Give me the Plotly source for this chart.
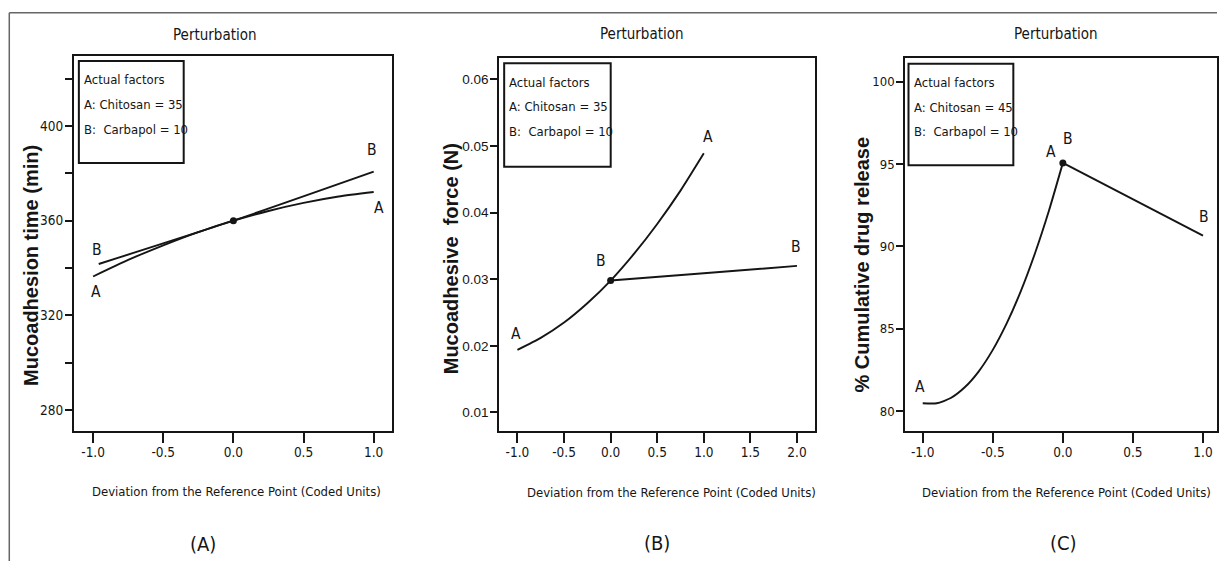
import plotly.graph_objects as go

W, H = 1219, 561

# ---------------- data ----------------
# Panel A: Mucoadhesion time (min)
a_A_x = [-1.0, -0.75, -0.5, -0.25, 0.0, 0.25, 0.5, 0.75, 1.0]
a_A_y = [336.4, 343.4, 349.6, 355.2, 360.0, 364.1, 367.5, 370.2, 372.1]
a_B_x = [-0.96, 0.0, 1.0]
a_B_y = [341.7, 360.0, 380.7]

# Panel B: Mucoadhesive force (N)
b_A_x = [-1.0, -0.75, -0.5, -0.25, 0.0, 0.25, 0.5, 0.75, 1.0]
b_A_y = [0.0194, 0.0212, 0.0235, 0.0264, 0.0298, 0.0338, 0.0383, 0.0433, 0.0489]
b_B_x = [0.0, 1.0, 2.0]
b_B_y = [0.0298, 0.0309, 0.0320]

# Panel C: % Cumulative drug release
c_A_x = [-1.0, -0.9, -0.8, -0.7, -0.6, -0.5, -0.4, -0.3, -0.2, -0.1, 0.0]
c_A_y = [80.49, 80.49, 80.81, 81.46, 82.43, 83.73, 85.35, 87.29, 89.56, 92.15, 95.07]
c_B_x = [0.0, 1.0]
c_B_y = [95.07, 90.66]

ref_y = [360.0, 0.0298, 95.07]

# tick values / labels
xtick_vals = [[-1.0, -0.5, 0.0, 0.5, 1.0],
              [-1.0, -0.5, 0.0, 0.5, 1.0, 1.5, 2.0],
              [-1.0, -0.5, 0.0, 0.5, 1.0]]
xtick_text = [["-1.0", "-0.5", "0.0", "0.5", "1.0"],
              ["-1.0", "-0.5", "0.0", "0.5", "1.0", "1.5", "2.0"],
              ["-1.0", "-0.5", "0.0", "0.5", "1.0"]]
ytick_vals = [[280, 320, 360, 400],
              [0.01, 0.02, 0.03, 0.04, 0.05, 0.06],
              [80, 85, 90, 95, 100]]
ytick_text = [["280", "320", "360", "400"],
              ["0.01", "0.02", "0.03", "0.04", "0.05", "0.06"],
              ["80", "85", "90", "95", "100"]]
a_minor_ticks = [300, 340, 380, 420]

panel_titles = ["Perturbation", "Perturbation", "Perturbation"]
y_titles = ["Mucoadhesion time (min)", "Mucoadhesive  force (N)", "% Cumulative drug release"]
x_title = "Deviation from the Reference Point (Coded Units)"
panel_tags = ["(A)", "(B)", "(C)"]
factor_lines = [
    ["Actual factors", "A: Chitosan = 35", "B:  Carbapol = 10"],
    ["Actual factors", "A: Chitosan = 35", "B:  Carbapol = 10"],
    ["Actual factors", "A: Chitosan = 45", "B:  Carbapol = 10"],
]
curve_labels = [
    [("B", -0.975, 347.5), ("A", -0.98, 330.0), ("B", 0.99, 389.7), ("A", 1.04, 365.2)],
    [("A", -1.02, 0.0218), ("B", -0.10, 0.0328), ("A", 1.05, 0.0513), ("B", 1.99, 0.0349)],
    [("A", -1.02, 81.5), ("A", -0.085, 95.76), ("B", 0.036, 96.5), ("B", 1.01, 91.76)],
]

# ---------------- layout geometry (pixels) ----------------
NARROW = ("Liberation Sans Narrow, Arial Narrow, DejaVu Sans Condensed, sans-serif")
SANS = "Liberation Sans, Arial, sans-serif"
INK = "#151515"

boxes = [  # left, right, top, bottom
    (74, 393, 56, 431),
    (500, 816.7, 58, 431),
    (906.7, 1219, 58, 431),
]
xranges = [[-1.137, 1.133], [-1.196, 2.197], [-1.125, 1.10]]
yranges = [[271.1, 429.6], [0.00722, 0.06321], [78.81, 101.43]]
ytickfont = [dict(family=NARROW, size=13.5, color=INK),
             dict(family=SANS, size=13.5, color=INK),
             dict(family=NARROW, size=13, color=INK)]
title_pos = [(215, 35), (643, 34), (1058, 34)]
xtitle_pos = [(237, 491), (673, 492), (1068, 492)]
tag_pos = [(203, 544), (658, 543), (1065, 543)]
ytitle_pos = [(31, 265), (452, 259), (863, 265)]
legend_boxes = [(79, 184, 61, 163), (505, 611.7, 63.3, 166.7), (910, 1015, 63.7, 165.3)]


def px(x):
    return x / W


def py(y):
    return 1 - y / H


fig = go.Figure()
layout = dict(
    width=W, height=H,
    margin=dict(l=0, r=0, t=0, b=0),
    paper_bgcolor="white", plot_bgcolor="white",
    showlegend=False,
    annotations=[], shapes=[],
)

series = [
    [(a_A_x, a_A_y), (a_B_x, a_B_y)],
    [(b_A_x, b_A_y), (b_B_x, b_B_y)],
    [(c_A_x, c_A_y), (c_B_x, c_B_y)],
]

for i in range(3):
    sfx = "" if i == 0 else str(i + 1)
    xa, ya = "x" + sfx, "y" + sfx
    l, r, t, b = boxes[i]
    for sx, sy in series[i]:
        fig.add_trace(go.Scatter(x=sx, y=sy, mode="lines", xaxis=xa, yaxis=ya,
                                 line=dict(color=INK, width=1.9, shape="spline", smoothing=0.6),
                                 hoverinfo="skip"))
    fig.add_trace(go.Scatter(x=[0.0], y=[ref_y[i]], mode="markers", xaxis=xa, yaxis=ya,
                             marker=dict(color=INK, size=7), hoverinfo="skip"))

    yax = dict(domain=[py(b), py(t)], range=yranges[i], anchor=xa,
               tickmode="array", tickvals=ytick_vals[i], ticktext=ytick_text[i],
               ticks="outside", ticklen=7, tickwidth=1.8, tickcolor=INK,
               showline=True, mirror=True, linewidth=2, linecolor=INK,
               showgrid=False, zeroline=False, tickfont=ytickfont[i],
               ticklabelstandoff=-1)
    if i == 0:
        yax["minor"] = dict(tickmode="array", tickvals=a_minor_ticks, ticks="outside", ticklen=7,
                            tickwidth=1.8, tickcolor=INK, showgrid=False)
    xax = dict(domain=[px(l), min(px(r), 1.0)], range=xranges[i], anchor=ya,
               tickmode="array", tickvals=xtick_vals[i], ticktext=xtick_text[i],
               ticks="outside", ticklen=10, tickwidth=1.8, tickcolor=INK,
               showline=True, mirror=True, linewidth=2, linecolor=INK,
               showgrid=False, zeroline=False,
               tickfont=dict(family=NARROW, size=13.5, color=INK),
               ticklabeloverflow="allow", ticklabelstandoff=-2)
    layout["xaxis" + sfx] = xax
    layout["yaxis" + sfx] = yax

    # text annotations
    tx, ty = title_pos[i]
    layout["annotations"].append(dict(text=panel_titles[i], x=px(tx), y=py(ty), xref="paper", yref="paper",
                                      showarrow=False, xanchor="center", yanchor="middle",
                                      font=dict(family=NARROW, size=15, color=INK)))
    tx, ty = xtitle_pos[i]
    layout["annotations"].append(dict(text=x_title, x=px(tx), y=py(ty), xref="paper", yref="paper",
                                      showarrow=False, xanchor="center", yanchor="middle",
                                      font=dict(family=NARROW, size=13, color=INK)))
    tx, ty = tag_pos[i]
    layout["annotations"].append(dict(text=panel_tags[i], x=px(tx), y=py(ty), xref="paper", yref="paper",
                                      showarrow=False, xanchor="center", yanchor="middle",
                                      font=dict(family=NARROW, size=20, color=INK)))
    tx, ty = ytitle_pos[i]
    layout["annotations"].append(dict(text="<b>" + y_titles[i].replace("  ", "&nbsp; ") + "</b>",
                                      x=px(tx), y=py(ty), xref="paper", yref="paper",
                                      showarrow=False, xanchor="center", yanchor="middle", textangle=-90,
                                      font=dict(family=SANS, size=20, color=INK)))
    # factor box
    bl, br, bt, bb = legend_boxes[i]
    layout["shapes"].append(dict(type="rect", xref="paper", yref="paper",
                                 x0=px(bl), x1=px(br), y0=py(bb), y1=py(bt),
                                 line=dict(color=INK, width=2), fillcolor="white", layer="above"))
    for k, line in enumerate(factor_lines[i]):
        layout["annotations"].append(dict(text=line.replace("  ", "&nbsp; "), x=px(bl + 3), y=py(bt + 19 + 24.5 * k),
                                          xref="paper", yref="paper", showarrow=False,
                                          xanchor="left", yanchor="middle",
                                          font=dict(family=NARROW, size=13, color=INK)))
    # curve labels
    for lab, lx, ly in curve_labels[i]:
        layout["annotations"].append(dict(text=lab, x=lx, y=ly, xref=xa, yref=ya, showarrow=False,
                                          xanchor="center", yanchor="middle",
                                          font=dict(family=NARROW, size=15.5, color=INK)))

# outer frame (top and left edges)
layout["shapes"].append(dict(type="line", xref="paper", yref="paper", x0=px(9.3), x1=1.0,
                             y0=py(12.7), y1=py(12.7), line=dict(color="#666666", width=1.5)))
layout["shapes"].append(dict(type="line", xref="paper", yref="paper", x0=px(9.3), x1=px(9.3),
                             y0=0.0, y1=py(12.7), line=dict(color="#666666", width=1.5)))

fig.update_layout(**layout)
fig.write_html("out.html", config={"displayModeBar": False},
               post_script="document.body.style.margin='0';document.body.style.overflow='hidden';")
